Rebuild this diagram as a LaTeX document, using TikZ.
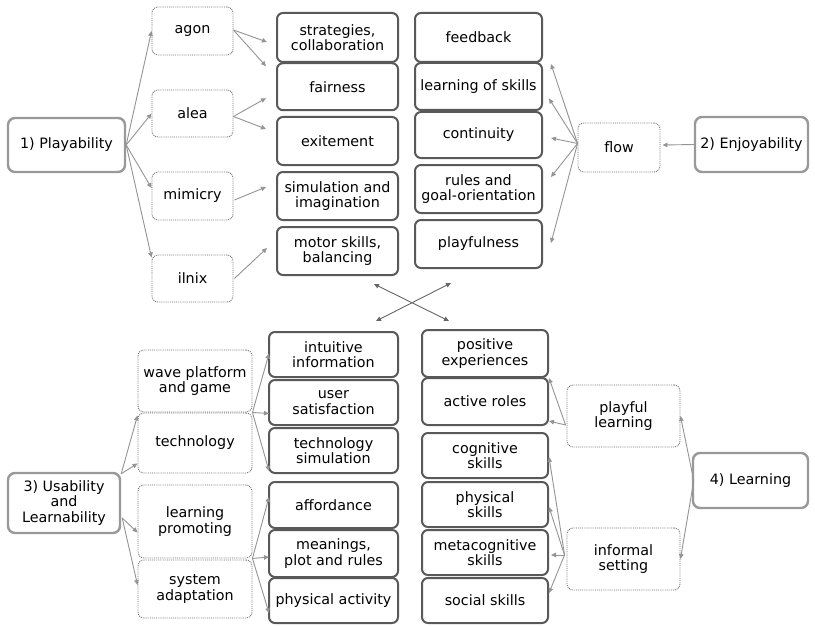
\documentclass[tikz,border=0pt]{standalone}
\usepackage{fontspec}
\setmainfont{DejaVu Sans}
\usetikzlibrary{arrows.meta,calc}
\begin{document}
\begin{tikzpicture}[x=1pt,y=-1pt,
  every node/.style={font=\fontsize{14.3}{15.6}\selectfont, text=black, align=center, inner sep=0pt},
  item/.style={draw=black!65, line width=2pt, rounded corners=6pt, fill=white},
  cat/.style={draw=black!40, line width=2.4pt, rounded corners=7pt, fill=white},
  sub/.style={draw=black!55, densely dotted, line width=0.9pt, rounded corners=6pt, fill=white},
  colA/.style={item, minimum width=121pt, minimum height=#1},
  colB/.style={item, minimum width=127pt, minimum height=#1},
  colC/.style={item, minimum width=129pt, minimum height=#1},
  colD/.style={item, minimum width=126pt, minimum height=#1},
  link/.style={draw=black!42, line width=0.9pt, -{Triangle[length=5pt,width=4.5pt]}},
  both/.style={draw=black!60, line width=0.9pt, {Triangle[length=5pt,width=4.5pt]}-{Triangle[length=5pt,width=4.5pt]}},
]
\useasboundingbox[fill=white] (0,0) rectangle (815,626);

% ---------- 1) Playability ----------
\node[cat, minimum width=117pt, minimum height=54pt] (play) at (66.5,145) {1) Playability};
\node[sub, minimum width=81pt, minimum height=48pt] (agon)  at (192.5,31)    {agon};
\node[sub, minimum width=81pt, minimum height=47pt] (alea)  at (192.5,113.5) {alea};
\node[sub, minimum width=81pt, minimum height=48pt] (mim)   at (192.5,196)   {mimicry};
\node[sub, minimum width=81pt, minimum height=47pt] (ilnix) at (192.5,278.5) {ilnix};

\node[colA=49pt] (strat) at (337.5,37.5) {strategies,\\collaboration};
\node[colA=47pt] (fair)  at (337.5,86.7) {fairness};
\node[colA=48pt] (exit)  at (337.5,141)  {exitement};
\node[colA=48pt] (sim)   at (337.5,196)  {simulation and\\imagination};
\node[colA=48pt] (motor) at (337.5,251)  {motor skills,\\balancing};

% ---------- 2) Enjoyability ----------
\node[colB=49pt] (feed)   at (478.5,37.5) {feedback};
\node[colB=47pt] (lskill) at (478.5,86.5) {learning of skills};
\node[colB=46pt] (cont)   at (478.5,135)  {continuity};
\node[colB=48pt] (rules)  at (478.5,189)  {rules and\\goal-orientation};
\node[colB=48pt] (playf)  at (478.5,244)  {playfulness};

\node[sub, minimum width=82pt, minimum height=49pt] (flow) at (619,147.5) {flow};
\node[cat, minimum width=113pt, minimum height=55pt] (enjoy) at (751.5,144.5) {2) Enjoyability};

% ---------- 3) Usability and Learnability ----------
\node[cat, minimum width=112pt, minimum height=60pt] (usab) at (64,503) {3) Usability\\and\\Learnability};
\node[sub, minimum width=114pt, minimum height=62pt] (wave) at (195,381)   {wave platform\\and game};
\node[sub, minimum width=114pt, minimum height=60pt] (tech) at (195,443)   {technology};
\node[sub, minimum width=114pt, minimum height=73pt] (lp)   at (195,521.5) {learning\\promoting};
\node[sub, minimum width=114pt, minimum height=58pt] (sa)   at (195,589)   {system\\adaptation};

\node[colC=45pt] (intuit)  at (333.5,354.5) {intuitive\\information};
\node[colC=45pt] (user)    at (333.5,402.5) {user\\satisfaction};
\node[colC=45pt] (techsim) at (333.5,450.5) {technology\\simulation};
\node[colC=46pt] (aff)     at (333.5,505)   {affordance};
\node[colC=47pt] (mean)    at (333.5,553.5) {meanings,\\plot and rules};
\node[colC=45pt] (phys)    at (333.5,600.5) {physical activity};

% ---------- 4) Learning ----------
\node[colD=47pt] (posexp) at (485,353.5) {positive\\experiences};
\node[colD=47pt] (active) at (485,401.5) {active roles};
\node[colD=45pt] (cog)    at (485,455.5) {cognitive\\skills};
\node[colD=45pt] (physk)  at (485,504.5) {physical\\skills};
\node[colD=45pt] (meta)   at (485,552.5) {metacognitive\\skills};
\node[colD=45pt] (social) at (485,600.5) {social skills};

\node[sub, minimum width=113pt, minimum height=62pt] (pl)  at (623.5,416) {playful\\learning};
\node[sub, minimum width=113pt, minimum height=62pt] (inf) at (623.5,559) {informal\\setting};
\node[cat, minimum width=115pt, minimum height=55pt] (learn) at (750.5,480.5) {4) Learning};

% ---------- connectors: Playability ----------
\draw[link] (play.east) -- (agon.west);
\draw[link] (play.east) -- (alea.west);
\draw[link] (play.east) -- ($(mim.west)+(0,-8)$);
\draw[link] (play.east) -- ($(ilnix.north west)+(0,3)$);
\draw[link] ($(agon.east)+(0,-1)$) -- ($(strat.west)+(-9,4.5)$);
\draw[link] ($(agon.east)+(0,-1)$) -- ($(fair.north west)+(-10,4)$);
\draw[link] ($(alea.east)+(0,3)$) -- ($(fair.south west)+(-10,-13)$);
\draw[link] ($(alea.east)+(0,3)$) -- ($(exit.north west)+(-10,13)$);
\draw[link] ($(mim.east)+(1,4)$) -- ($(sim.west)+(-10,-9)$);
\draw[link] ($(ilnix.east)+(1,0)$) -- ($(motor.west)+(-9,-3)$);

% ---------- connectors: Enjoyability ----------
\draw[link] (enjoy.west) -- ($(flow.east)+(2,-2.5)$);
\draw[link] ($(flow.west)+(0,-4)$) -- ($(lskill.north east)+(8,2)$);
\draw[link] ($(flow.west)+(0,-4)$) -- ($(lskill.east)+(6,12)$);
\draw[link] ($(flow.west)+(0,-4)$) -- ($(cont.east)+(8,3)$);
\draw[link] ($(flow.west)+(0,-4)$) -- ($(rules.east)+(8,-12)$);
\draw[link] ($(flow.west)+(0,-4)$) -- ($(playf.east)+(8,-1)$);

% ---------- crossing double arrows ----------
\draw[both] ($(motor.south east)+(-25,8)$) -- ($(posexp.north west)+(28,-8)$);
\draw[both] ($(playf.south west)+(37,14)$) -- ($(intuit.north east)+(-23,-10)$);

% ---------- connectors: Usability and Learnability ----------
\draw[link] ($(usab.north east)+(0,2)$) -- ($(wave.south west)+(0,3)$);
\draw[link] ($(usab.north east)+(0,2)$) -- ($(tech.south west)+(0,-10)$);
\draw[link] ($(usab.east)+(1,15)$) -- ($(lp.west)+(0,11)$);
\draw[link] ($(usab.east)+(1,15)$) -- ($(sa.west)+(0,-4)$);
\draw[link] (wave.south east) -- ($(intuit.west)+(1,-1)$);
\draw[link] (wave.south east) -- ($(user.west)+(1,11)$);
\draw[link] (wave.south east) -- ($(techsim.south west)+(1,-3)$);
\draw[link] (lp.south east) -- ($(aff.west)+(1,-8)$);
\draw[link] (lp.south east) -- ($(mean.west)+(1,3.5)$);
\draw[link] (lp.south east) -- ($(phys.west)+(1,12.5)$);

% ---------- connectors: Learning ----------
\draw[link] ($(learn.west)+(2,0)$) -- (pl.east);
\draw[link] ($(learn.west)+(2,0)$) -- (inf.east);
\draw[link] ($(pl.west)+(-1,9)$) -- (posexp.south east);
\draw[link] ($(pl.west)+(-1,9)$) -- ($(active.south east)+(0,-5)$);
\draw[link] ($(inf.west)+(-2,-4)$) -- ($(cog.east)+(0,1.5)$);
\draw[link] ($(inf.west)+(-2,-4)$) -- ($(physk.east)+(0,2.5)$);
\draw[link] ($(inf.west)+(-2,-4)$) -- ($(meta.east)+(2,2.5)$);
\draw[link] ($(inf.west)+(-2,-4)$) -- ($(social.east)+(0,-7.5)$);
\end{tikzpicture}
\end{document}
